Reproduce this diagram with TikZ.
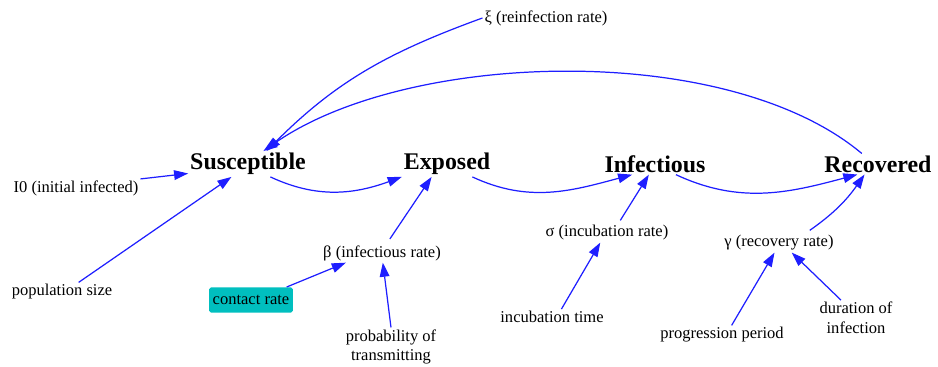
\documentclass[tikz,border=0pt]{standalone}
\usepackage{fontspec}
\setmainfont{Liberation Serif}
\definecolor{linkblue}{RGB}{30,30,255}
\definecolor{contactteal}{RGB}{0,191,191}
\usetikzlibrary{arrows.meta}

\begin{document}
\begin{tikzpicture}[x=0.02cm, y=0.02cm,
    stock/.style={font=\fontsize{13.6}{16}\selectfont\bfseries, inner sep=1pt},
    param/.style={font=\fontsize{9.4}{11.2}\selectfont, inner sep=1pt, align=center},
    link/.style={-{Triangle[length=8pt,width=5.5pt]}, linkblue, line width=0.7pt}]
  \useasboundingbox (0,0) rectangle (938,-367);

  % compartments
  \node[stock] (sus) at (248,-164) {Susceptible};
  \node[stock] (exp) at (447,-164) {Exposed};
  \node[stock] (inf) at (655,-164) {Infectious};
  \node[stock] (rec) at (878,-164) {Recovered};

  % parameters and inputs
  \node[param] (xi) at (546,-18) {ξ (reinfection rate)};
  \node[param] (io) at (76,-188) {I0 (initial infected)};
  \node[param] (pop) at (62,-292) {population size};
  \node[param, fill=contactteal, rounded corners=1pt, inner xsep=2pt, inner ysep=4.5pt,
        minimum width=83*0.02cm] (ctr) at (251,-300) {contact rate};
  \node[param] (beta) at (382,-253) {β (infectious rate)};
  \node[param] (prob) at (391,-347) {probability of\\transmitting};
  \node[param] (sigma) at (607,-233) {σ (incubation rate)};
  \node[param] (inct) at (552,-317) {incubation time};
  \node[param] (gamma) at (779,-243) {γ (recovery rate)};
  \node[param] (prog) at (722,-335) {progression period};
  \node[param] (dur) at (856,-318) {duration of\\infection};

  % flows between compartments
  \draw[link] (sus.-30) to[out=-25,in=200] (exp.south west);
  \draw[link] (exp.-27) to[out=-25,in=195] (inf.-155);
  \draw[link] (inf.-27) to[out=-25,in=195] (rec.-153);
  \draw[link] (rec.147) to[out=140,in=35,looseness=0.75] (sus.40);
  \draw[link] (xi.west) to[out=200,in=45] (sus.35);

  % parameter links
  \draw[link] (io.8) -- (sus.-171);
  \draw[link] (pop.30) -- (sus.-142);
  \draw[link, shorten <=3pt] (beta.63) -- (exp.-140);
  \draw[link] (ctr.20) -- (beta.-165);
  \draw[link] (prob.north) -- (beta.-85);
  \draw[link, shorten <=2pt] (sigma.40) -- (inf.-120);
  \draw[link] (inct.40) -- (sigma.-125);
  \draw[link, shorten <=3pt] (gamma.20) to[out=35,in=-125] (rec.-142);
  \draw[link] (prog.45) -- (gamma.-115);
  \draw[link] (dur.130) -- (gamma.-37);
\end{tikzpicture}
\end{document}
